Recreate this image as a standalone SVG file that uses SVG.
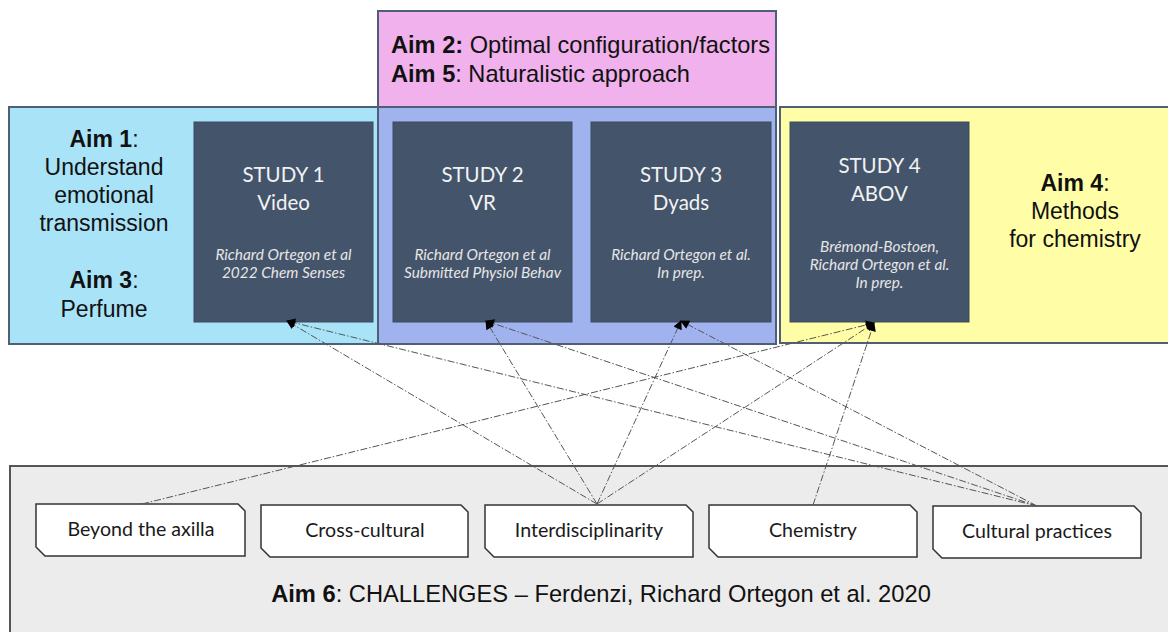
<svg xmlns="http://www.w3.org/2000/svg" width="1168" height="632" viewBox="0 0 1168 632">
<defs>
<style>
.frame{stroke:#4f5f76;stroke-width:2}
.study{fill:#44546a;stroke:#3b4a63;stroke-width:1}
.st{font-family:Lato,"Open Sans",sans-serif;font-size:20.5px;fill:#f2f2f2;text-anchor:middle}
.cit{font-family:Lato,"Open Sans",sans-serif;font-size:15.4px;font-style:italic;fill:#e6e6e6;text-anchor:middle}
.aim{font-family:"Liberation Sans",Arial,sans-serif;font-size:23px;fill:#111;text-anchor:middle}
.aiml{font-family:"Liberation Sans",Arial,sans-serif;font-size:23.6px;fill:#111}
.a6{font-size:23.7px}
.b{font-weight:bold}
.lab{fill:#fff;stroke:#333;stroke-width:1.5}
.lt{font-family:Lato,"Open Sans",sans-serif;font-size:19.6px;fill:#1a1a1a;text-anchor:middle}
.con{fill:none;stroke:#555;stroke-width:1;stroke-dasharray:7 2 1.5 2}
</style>
<marker id="ah" viewBox="0 0 10 10" refX="9" refY="5" markerWidth="10" markerHeight="9" markerUnits="userSpaceOnUse" orient="auto">
<path d="M0,0 L10,5 L0,10 z" fill="#000"/>
</marker>
</defs>
<rect width="1168" height="632" fill="#fff"/>

<g id="frames">
<rect id="aim2-frame" class="frame" x="378" y="11" width="398" height="96" fill="#f0b1ec"/>
<rect id="aim1-frame" class="frame" x="9" y="107" width="369" height="237" fill="#a9e3f8"/>
<rect id="aim25-frame" class="frame" x="378" y="107" width="398" height="237" fill="#a1b3ee"/>
<rect id="aim4-frame" class="frame" x="780" y="107" width="400" height="236" fill="#fffea6"/>
<rect id="aim6-frame" x="10" y="466" width="1170" height="180" fill="#ececec" stroke="#555" stroke-width="2"/>
</g>

<g id="aim-texts">
<text class="aiml" x="391" y="53"><tspan class="b">Aim 2:</tspan> Optimal configuration/factors</text>
<text class="aiml" x="391" y="82"><tspan class="b">Aim 5</tspan>: Naturalistic approach</text>
<text class="aim" x="104" y="147"><tspan class="b">Aim 1</tspan>:</text>
<text class="aim" x="104" y="175">Understand</text>
<text class="aim" x="104" y="203">emotional</text>
<text class="aim" x="104" y="231">transmission</text>
<text class="aim" x="104" y="288"><tspan class="b">Aim 3</tspan>:</text>
<text class="aim" x="104" y="317">Perfume</text>
<text class="aim" x="1075" y="191"><tspan class="b">Aim 4</tspan>:</text>
<text class="aim" x="1075" y="219">Methods</text>
<text class="aim" x="1075" y="247">for chemistry</text>
<text class="aim a6" x="601" y="602"><tspan class="b">Aim 6</tspan>: CHALLENGES – Ferdenzi, Richard Ortegon et al. 2020</text>
</g>

<g id="study1">
<rect class="study" x="194" y="122" width="179" height="200"/>
<text class="st" x="283.5" y="182">STUDY 1</text>
<text class="st" x="283.5" y="210">Video</text>
<text class="cit" x="283.5" y="260">Richard Ortegon et al</text>
<text class="cit" x="283.5" y="278">2022 Chem Senses</text>
</g>
<g id="study2">
<rect class="study" x="393" y="122" width="179" height="200"/>
<text class="st" x="482.5" y="182">STUDY 2</text>
<text class="st" x="482.5" y="210">VR</text>
<text class="cit" x="482.5" y="260">Richard Ortegon et al</text>
<text class="cit" x="482.5" y="278">Submitted Physiol Behav</text>
</g>
<g id="study3">
<rect class="study" x="591" y="122" width="180" height="200"/>
<text class="st" x="681" y="182">STUDY 3</text>
<text class="st" x="681" y="210">Dyads</text>
<text class="cit" x="681" y="260">Richard Ortegon et al.</text>
<text class="cit" x="681" y="278">In prep.</text>
</g>
<g id="study4">
<rect class="study" x="790" y="122" width="179" height="200"/>
<text class="st" x="879.5" y="173">STUDY 4</text>
<text class="st" x="879.5" y="201">ABOV</text>
<text class="cit" x="879.5" y="252">Brémond-Bostoen,</text>
<text class="cit" x="879.5" y="270">Richard Ortegon et al.</text>
<text class="cit" x="879.5" y="288">In prep.</text>
</g>

<g id="label-beyond">
<path class="lab" d="M36,504 H238 L245,511 V556 H45 L36,547 Z"/>
<text class="lt" x="141" y="536">Beyond the axilla</text>
</g>
<g id="label-cross">
<path class="lab" d="M261,505 H461 L468,512 V557 H270 L261,548 Z"/>
<text class="lt" x="365" y="537">Cross-cultural</text>
</g>
<g id="label-inter">
<path class="lab" d="M485,505 H686 L693,512 V557 H494 L485,548 Z"/>
<text class="lt" x="589" y="537">Interdisciplinarity</text>
</g>
<g id="label-chem">
<path class="lab" d="M709,505 H910 L917,512 V557 H718 L709,548 Z"/>
<text class="lt" x="813" y="537">Chemistry</text>
</g>
<g id="label-cultural">
<path class="lab" d="M933,506 H1134 L1141,513 V558 H942 L933,549 Z"/>
<text class="lt" x="1037" y="538">Cultural practices</text>
</g>

<g id="connectors">
<line class="con" x1="142" y1="504" x2="874" y2="323" marker-end="url(#ah)"/>
<line class="con" x1="597" y1="504" x2="287" y2="321" marker-end="url(#ah)"/>
<line class="con" x1="597" y1="504" x2="486" y2="321" marker-end="url(#ah)"/>
<line class="con" x1="597" y1="504" x2="681" y2="321" marker-end="url(#ah)"/>
<line class="con" x1="597" y1="504" x2="874" y2="323" marker-end="url(#ah)"/>
<line class="con" x1="813" y1="505" x2="874" y2="323" marker-end="url(#ah)"/>
<line class="con" x1="1037" y1="506" x2="287" y2="321" marker-end="url(#ah)"/>
<line class="con" x1="1037" y1="506" x2="486" y2="321" marker-end="url(#ah)"/>
<line class="con" x1="1037" y1="506" x2="681" y2="321" marker-end="url(#ah)"/>
</g>
</svg>
